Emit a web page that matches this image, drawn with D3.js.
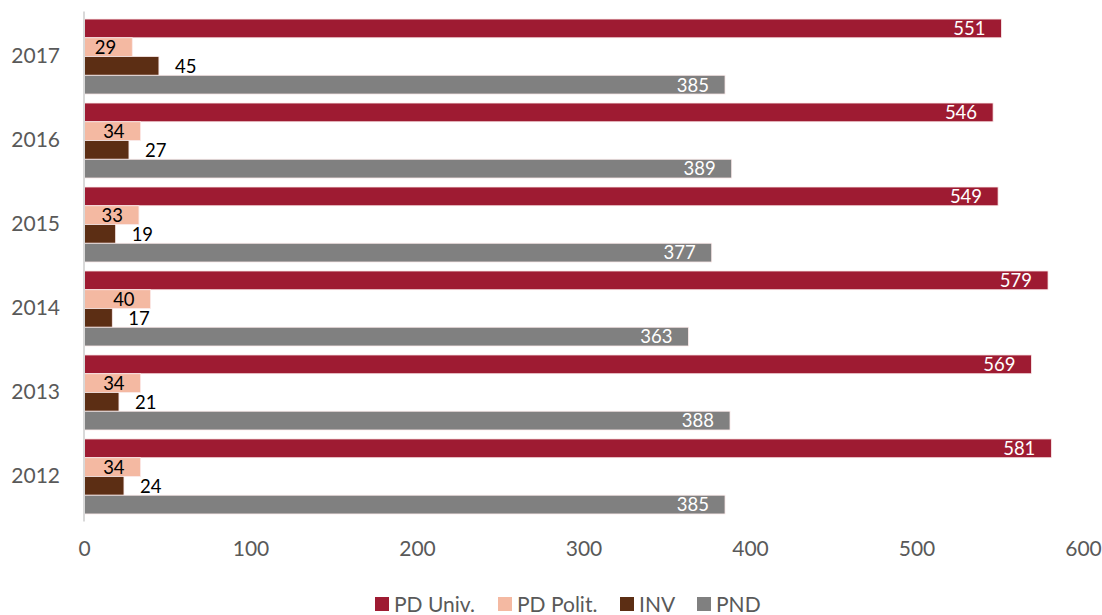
<!DOCTYPE html>
<html>
<head>
<meta charset="utf-8">
<script src="https://cdn.jsdelivr.net/npm/d3@7"></script>
<style>
  body { margin: 0; background: #fff; }
  text { font-family: Lato, "Open Sans", sans-serif; }
</style>
</head>
<body>
<div id="chart"></div>
<script>
// years, top to bottom
const years = ["2017", "2016", "2015", "2014", "2013", "2012"];
const seriesNames = ["PD Univ.", "PD Polit.", "INV", "PND"];
const pdUniv = [551, 546, 549, 579, 569, 581];
const pdPolit = [29, 34, 33, 40, 34, 34];
const inv = [45, 27, 19, 17, 21, 24];
const pnd = [385, 389, 377, 363, 388, 385];
const xTicks = [0, 100, 200, 300, 400, 500, 600];

const colors = ["#9e1b32", "#f4b9a2", "#5c2e14", "#808080"];
const labelColors = ["#fff", "#000", "#000", "#fff"];
const labelInside = [true, true, false, true];

const width = 1102;
const height = 615;
const margin = {top: 14.5, right: 19, bottom: 96.5, left: 84};

const values = [pdUniv, pdPolit, inv, pnd];
const rows = [];
years.forEach((y, i) => {
    seriesNames.forEach((s, j) => {
        rows.push({year: y, series: s, idx: j, value: values[j][i]});
    });
});

const x = d3.scaleLinear()
    .domain([0, 600])
    .range([margin.left, width - margin.right]);

const y = d3.scaleBand()
    .domain(years)
    .range([margin.top, height - margin.bottom])
    .paddingInner(0.107)
    .paddingOuter(0.054);

const ySub = d3.scaleBand()
    .domain(seriesNames)
    .range([0, y.bandwidth()]);

const svg = d3.select("#chart").append("svg")
    .attr("width", width)
    .attr("height", height);

// bars
svg.append("g")
  .selectAll("rect")
  .data(rows)
  .join("rect")
    .attr("x", x(0))
    .attr("y", d => y(d.year) + ySub(d.series))
    .attr("width", d => x(d.value) - x(0))
    .attr("height", ySub.bandwidth())
    .attr("fill", d => colors[d.idx])
    .attr("stroke", "#fbeaea")
    .attr("stroke-width", 0.8);

// value labels
svg.append("g")
  .selectAll("text")
  .data(rows)
  .join("text")
    .attr("x", d => labelInside[d.idx] ? x(d.value) - 16 : x(d.value) + 16)
    .attr("y", d => y(d.year) + ySub(d.series) + ySub.bandwidth() / 2)
    .attr("dy", "0.37em")
    .attr("text-anchor", d => labelInside[d.idx] ? "end" : "start")
    .attr("fill", d => labelColors[d.idx])
    .attr("font-size", 18.5)
    .text(d => d.value);

// category axis
const yAxis = svg.append("g")
    .attr("transform", `translate(${margin.left},0)`)
    .call(d3.axisLeft(y).tickSize(0).tickPadding(24));
yAxis.select(".domain")
    .attr("stroke", "#d9d9d9")
    .attr("stroke-width", 2)
    .attr("d", `M0,${margin.top - 3}V${height - margin.bottom + 3}`);
yAxis.selectAll("text")
    .attr("font-size", 21)
    .attr("fill", "#595959")
    .attr("font-family", "Lato, sans-serif");

// value axis
const xAxis = svg.append("g")
    .attr("transform", `translate(0,${height - margin.bottom})`)
    .call(d3.axisBottom(x).tickValues(xTicks).tickSize(0).tickPadding(23));
xAxis.select(".domain").remove();
xAxis.selectAll("text")
    .attr("font-size", 21)
    .attr("fill", "#595959")
    .attr("font-family", "Lato, sans-serif");

// legend
const legendX = [375, 498, 620, 697];
const legend = svg.append("g")
  .selectAll("g")
  .data(seriesNames)
  .join("g")
    .attr("transform", (d, i) => `translate(${legendX[i]},597)`);
legend.append("rect")
    .attr("width", 14)
    .attr("height", 14)
    .attr("fill", (d, i) => colors[i]);
legend.append("text")
    .attr("x", 19)
    .attr("y", 7)
    .attr("dy", "0.37em")
    .attr("font-size", 21)
    .attr("fill", "#595959")
    .text(d => d);
</script>
</body>
</html>
